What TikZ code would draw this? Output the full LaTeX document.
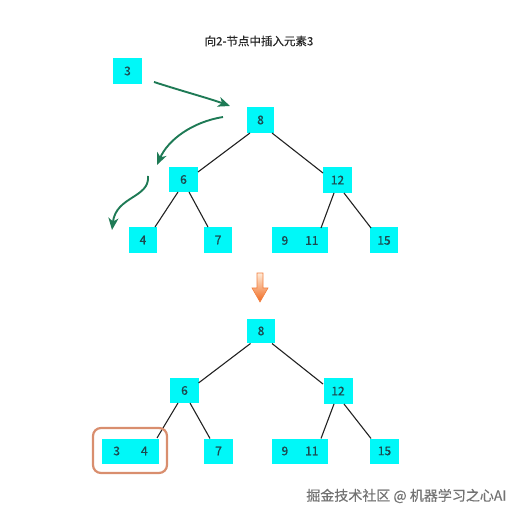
\documentclass[tikz,border=0pt]{standalone}
\usepackage{fontspec}
\setmainfont{Noto Sans CJK SC}
\newfontfamily\numfont{Noto Sans CJK SC}[FakeBold=0.7]
\newfontfamily\titlefont{Noto Sans CJK SC}[FakeBold=0.4]
\usetikzlibrary{arrows.meta,calc}
\definecolor{boxcyan}{HTML}{00F8F8}
\definecolor{numtxt}{HTML}{1D4A50}
\definecolor{edgecol}{HTML}{222222}
\definecolor{greenarr}{HTML}{1E7A55}
\definecolor{orangehi}{HTML}{D98E6E}
\definecolor{orangearr}{HTML}{F06A20}
\begin{document}
\begin{tikzpicture}[x=1pt,y=-1pt,
  box/.style={fill=boxcyan, inner sep=0pt, minimum height=26pt, minimum width=28pt,
    font=\numfont\fontsize{12}{14}\selectfont, text=numtxt},
  edge/.style={draw=edgecol, line width=1.1pt},
  garrow/.style={draw=greenarr, line width=1.9pt,
    -{Stealth[length=12pt,width=10pt,inset=3.5pt]}},
  hilite/.style={draw=orangehi, line width=2.2pt, rounded corners=8pt}]
\useasboundingbox (0,0) rectangle (522,518);

% title
\node[font=\titlefont\fontsize{11.5}{13}\selectfont, text=black!85] (title) at (259,41) {向2-节点中插入元素3};

% element to insert
\node[box, minimum width=29pt] (in3) at (127.5,71) {3};

% top tree
\node[box, minimum width=27pt] (n8) at (260.5,120) {8};
\node[box, minimum width=29pt, minimum height=25pt] (n6) at (183.5,179.5) {6};
\node[box, minimum width=29pt] (n12) at (337.5,180) {12};
\node[box] (n4) at (143,240) {4};
\node[box] (n7) at (218,240) {7};
\node[box, minimum width=56pt] (n911) at (300,240.5) {9\hspace{17pt}11};
\node[box] (n15) at (384,240.5) {15};

\draw[edge] ($(n8)+(-10.5,13)$) -- ($(n6)+(14.5,-7.5)$);
\draw[edge] ($(n8)+(11.5,13)$) -- ($(n12)+(-14.5,-7)$);
\draw[edge] ($(n6)+(-5.5,12.5)$) -- ($(n4)+(12,-13)$);
\draw[edge] ($(n6)+(5.5,12.5)$) -- ($(n7)+(-10,-13)$);
\draw[edge] ($(n12)+(-3.5,13)$) -- ($(n911)+(21,-12.5)$);
\draw[edge] ($(n12)+(6.5,13)$) -- ($(n15)+(-13,-12.5)$);

% green arrows
\coordinate (g1s) at (154,82);
\coordinate (g1e) at (230,106);
\coordinate (g2s) at (223,117);
\coordinate (g2e) at (157,165);
\coordinate (g3s) at (148,176);
\coordinate (g3e) at (112,230);
\draw[garrow] (g1s) .. controls (185,92) and (208,98) .. (g1e);
\draw[garrow] (g2s) .. controls (192,122) and (168,140) .. (g2e);
\draw[garrow] (g3s) .. controls (150,198) and (116,196) .. (g3e);

% orange arrow
\shade[top color=orange!15, bottom color=orangearr, draw=orangearr!85, line width=0.6pt]
  (257,273) -- (263,273) -- (263,288) -- (268,288) -- (260,302) -- (252,288) -- (257,288) -- cycle;

% bottom tree
\node[box, minimum width=28pt, minimum height=24pt] (m8) at (261,331) {8};
\node[box, minimum width=29pt, minimum height=25pt] (m6) at (184.5,390.5) {6};
\node[box, minimum width=29pt] (m12) at (338,391) {12};
\node[box, minimum width=57pt, minimum height=25pt] (m34) at (130.5,451) {3\hspace{21pt}4};
\node[box, minimum width=29pt, minimum height=25pt] (m7) at (218.5,451) {7};
\node[box, minimum width=56pt, minimum height=25pt] (m911) at (300,451) {9\hspace{17pt}11};
\node[box, minimum width=29pt, minimum height=25pt] (m15) at (384.5,451) {15};

\draw[edge] ($(m8)+(-10.5,12.5)$) -- ($(m6)+(14,-7.5)$);
\draw[edge] ($(m8)+(11,12.5)$) -- ($(m12)+(-15,-7)$);
\draw[edge] ($(m6)+(-6.5,12.5)$) -- ($(m34)+(26.5,-13)$);
\draw[edge] ($(m6)+(5.5,12.5)$) -- ($(m7)+(-8.5,-12.5)$);
\draw[edge] ($(m12)+(-4,13)$) -- ($(m911)+(21,-12.5)$);
\draw[edge] ($(m12)+(6,13)$) -- ($(m15)+(-13.5,-12.5)$);

% highlight
\draw[hilite] (93,428) rectangle (167,473);

% watermark
\node[font=\titlefont\fontsize{14}{16}\selectfont, text=black!55, anchor=east] (wm) at (510,496) {掘金技术社区 @ 机器学习之心AI};
\end{tikzpicture}
\end{document}
